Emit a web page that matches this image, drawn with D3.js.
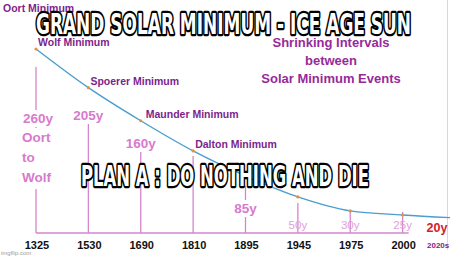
<!DOCTYPE html>
<html>
<head>
<meta charset="utf-8">
<script src="https://cdn.jsdelivr.net/npm/d3@7"></script>
<style>
  body { margin: 0; background: #fff; }
  svg { display: block; font-family: "Liberation Sans", Arial, sans-serif; }
  .meme { font-family: "DejaVu Sans Condensed", "Liberation Sans Narrow", sans-serif; font-weight: bold;
          fill: #fff; stroke: #000; stroke-width: 4.5px; paint-order: stroke; stroke-linejoin: round; }
</style>
</head>
<body>
<div id="chart"></div>
<script>
// data
var years = ["1325", "1530", "1690", "1810", "1895", "1945", "1975", "2000", "2020s"];
var level = [100, 79, 61, 44.6, 31, 19.6, 12, 9.8, 8.2];
var minima = ["Wolf Minimum", "Spoerer Minimum", "Maunder Minimum", "Dalton Minimum", "", "", "", "", ""];
var intervals = ["260y", "205y", "160y", "", "85y", "50y", "30y", "25y", "20y"];
var subtitle = ["Shrinking Intervals", "between", "Solar Minimum Events"];

// layout
var width = 450, height = 258;
var lineTop = [67, 122, 150, 156, 186, 203, 212, 212, null];
var labelY = [123, 120, 148, null, 213, 229, 229, 229, 232];

var svg = d3.select("#chart").append("svg")
  .attr("width", width)
  .attr("height", height)

var x = d3.scalePoint()
  .domain(years)
  .range([36, 455])

var y = d3.scaleLinear()
  .domain([0, 100])
  .range([233, 49])

// faint frame edge on the right
svg.append("line")
  .attr("x1", 447.5).attr("x2", 447.5)
  .attr("y1", 0).attr("y2", 250)
  .attr("stroke", "#d8d8d8")

// vertical interval markers
svg.append("g")
  .selectAll("line")
  .data(years.filter(function(d, i){ return lineTop[i] != null; }))
  .enter()
  .append("line")
  .attr("x1", function(d){ return x(d); })
  .attr("x2", function(d){ return x(d); })
  .attr("y1", function(d){ return lineTop[years.indexOf(d)]; })
  .attr("y2", y(0))
  .attr("stroke", "#d486cc")
  .attr("stroke-width", 1.3)

// axis baseline
svg.append("line")
  .attr("x1", x("1325")).attr("x2", x("2000") + 6)
  .attr("y1", y(0)).attr("y2", y(0))
  .attr("stroke", "#d486cc")
  .attr("stroke-width", 1.3)

// interval labels with white knockout
var lab = svg.append("g")
years.forEach(function(d, i){
  if (!intervals[i]) return;
  var big = i < 5, last = i == years.length - 1;
  var cx = last ? 437 : x(d) + (i == 0 ? 2 : 0);
  var fs = big ? 13.5 : (last ? 12.5 : 11.5);
  var t = lab.append("text")
    .attr("x", cx)
    .attr("y", labelY[i])
    .attr("text-anchor", "middle")
    .attr("font-size", fs)
    .attr("font-weight", (big || last) ? "bold" : "normal")
    .attr("fill", last ? "#d1202e" : (big ? "#d97acd" : "#dfa0da"))
    .text(intervals[i]);
  if (big) {
    var bb = t.node().getBBox();
    lab.insert("rect", "text")
      .attr("x", bb.x - 1).attr("y", bb.y - 1)
      .attr("width", bb.width + 2).attr("height", bb.height + 2)
      .attr("fill", "#fff")
  }
});

// "Oort to Wolf" under 260y
var otw = lab.append("text")
  .attr("x", 22)
  .attr("font-size", 13.5)
  .attr("font-weight", "bold")
  .attr("fill", "#d97acd")
otw.selectAll("tspan")
  .data(["Oort", "to", "Wolf"])
  .enter()
  .append("tspan")
  .attr("x", 22)
  .attr("y", function(d, i){ return 142 + i * 20; })
  .text(function(d){ return d; })
var ob = otw.node().getBBox();
lab.insert("rect", "text")
  .attr("x", ob.x - 1).attr("y", ob.y - 2)
  .attr("width", ob.width + 2).attr("height", ob.height + 6)
  .attr("fill", "#fff")

// the decay line
var line = d3.line()
  .x(function(d, i){ return x(years[i]); })
  .y(function(d){ return y(d); })
  .curve(d3.curveMonotoneX)

svg.append("path")
  .datum(level)
  .attr("fill", "none")
  .attr("stroke", "#4a9dcf")
  .attr("stroke-width", 1.4)
  .attr("d", line)

svg.append("g")
  .selectAll("circle")
  .data(level)
  .enter()
  .append("circle")
  .attr("cx", function(d, i){ return x(years[i]); })
  .attr("cy", function(d){ return y(d); })
  .attr("r", 1.6)
  .attr("fill", "#e8913c")

// minimum names
svg.append("g")
  .selectAll("text")
  .data(level)
  .enter()
  .append("text")
  .attr("x", function(d, i){ return x(years[i]) + (i == 2 ? 5 : 2); })
  .attr("y", function(d){ return y(d) - 3; })
  .attr("font-size", 10.5)
  .attr("font-weight", "bold")
  .attr("fill", "#7d1f8c")
  .text(function(d, i){ return minima[i]; })

svg.append("text")
  .attr("x", 3).attr("y", 12)
  .attr("font-size", 10.5)
  .attr("font-weight", "bold")
  .attr("fill", "#7d1f8c")
  .text("Oort Minimum")

// subtitle block
svg.append("g")
  .selectAll("text")
  .data(subtitle)
  .enter()
  .append("text")
  .attr("x", 331)
  .attr("y", function(d, i){ return 47 + i * 18; })
  .attr("text-anchor", "middle")
  .attr("font-size", 13)
  .attr("font-weight", "bold")
  .attr("fill", "#962a9a")
  .text(function(d){ return d; })

// year tick labels
svg.append("g")
  .selectAll("text")
  .data(years.slice(0, -1))
  .enter()
  .append("text")
  .attr("x", function(d){ return x(d) + 1; })
  .attr("y", 249)
  .attr("text-anchor", "middle")
  .attr("font-size", 11)
  .attr("font-weight", "bold")
  .attr("fill", "#111")
  .text(function(d){ return d; })

svg.append("text")
  .attr("x", 427).attr("y", 248)
  .attr("font-size", 8)
  .attr("font-weight", "bold")
  .attr("fill", "#7d1f8c")
  .text(years[years.length - 1])

// watermark
svg.append("text")
  .attr("x", 1).attr("y", 255)
  .attr("font-size", 6)
  .attr("fill", "#999")
  .text("imgflip.com")

// meme captions
svg.append("text")
  .attr("class", "meme")
  .attr("x", 36).attr("y", 34)
  .attr("font-size", 29)
  .attr("textLength", 375)
  .attr("lengthAdjust", "spacingAndGlyphs")
  .text("GRAND SOLAR MINIMUM - ICE AGE SUN")

svg.append("text")
  .attr("class", "meme")
  .attr("x", 81).attr("y", 186)
  .attr("font-size", 29)
  .attr("textLength", 288)
  .attr("lengthAdjust", "spacingAndGlyphs")
  .text("PLAN A : DO NOTHING AND DIE")
</script>
</body>
</html>
